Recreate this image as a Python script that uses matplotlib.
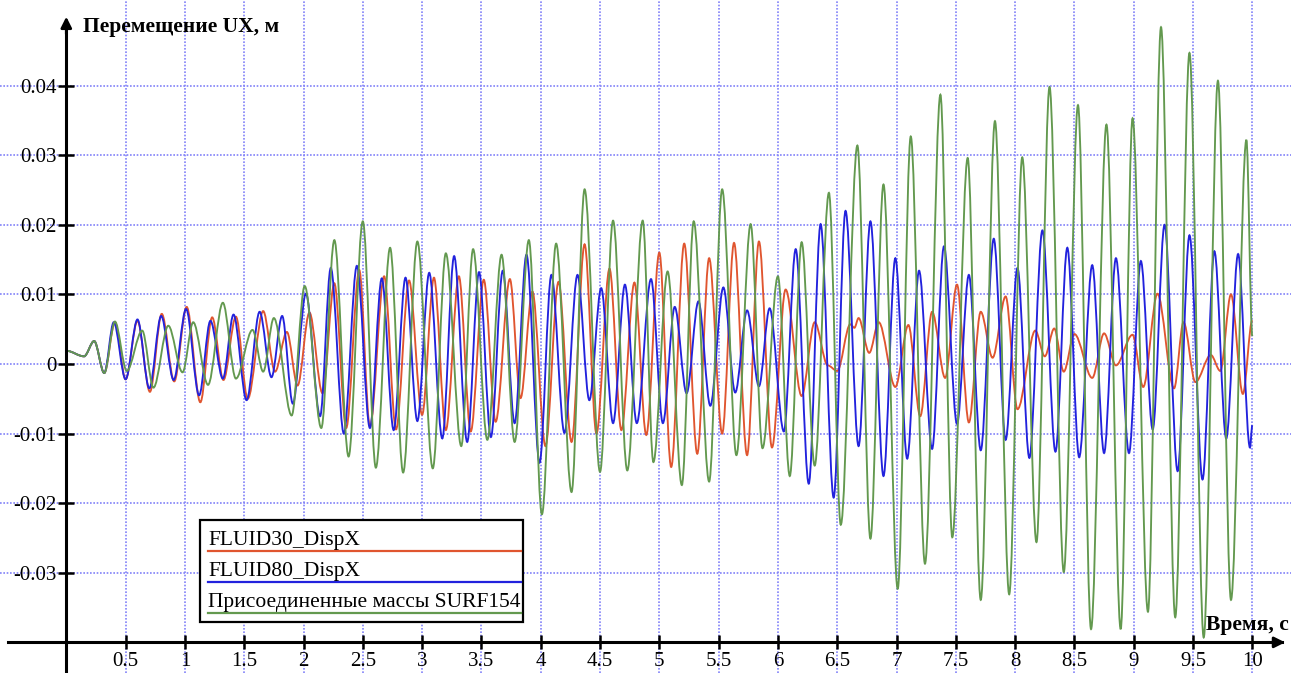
"""Перемещение UX во времени: три модели жидкости."""
import matplotlib
matplotlib.use("Agg")
import matplotlib.pyplot as plt
from matplotlib.path import Path
from matplotlib.patches import PathPatch, Rectangle
from matplotlib.lines import Line2D

plt.rcParams["font.family"] = ["Liberation Serif", "DejaVu Serif"]

# экстремумы кривых (время, с; перемещение, м)
fluid30_t = [0.0, 0.15, 0.235, 0.32, 0.41, 0.50, 0.60, 0.705, 0.805, 0.91, 1.015, 1.13, 1.23, 1.325,
             1.43, 1.53, 1.66, 1.76, 1.86, 1.95, 2.05, 2.16, 2.26, 2.36, 2.47, 2.56, 2.68, 2.78,
             2.89, 3.00, 3.10, 3.20, 3.31, 3.41, 3.52, 3.62, 3.74, 3.83, 3.93, 4.04, 4.15, 4.26,
             4.37, 4.47, 4.58, 4.68, 4.79, 4.89, 5.00, 5.10, 5.21, 5.32, 5.42, 5.53, 5.63, 5.74,
             5.84, 5.95, 6.065, 6.20, 6.31, 6.42, 6.50, 6.61, 6.645, 6.68, 6.77, 6.85, 6.99, 7.10,
             7.20, 7.30, 7.41, 7.51, 7.61, 7.71, 7.81, 7.92, 8.02, 8.17, 8.25, 8.33, 8.41, 8.50,
             8.65, 8.75, 8.85, 8.99, 9.08, 9.20, 9.34, 9.42, 9.52, 9.65, 9.73, 9.82, 9.92, 10.0]
fluid30_v = [0.0019, 0.0011, 0.0033, -0.0013, 0.0060, -0.0022, 0.0062, -0.0040, 0.0072, -0.0025,
             0.0082, -0.0055, 0.0067, -0.0023, 0.0068, -0.0050, 0.0076, -0.0011, 0.0046, -0.0031,
             0.0074, -0.0042, 0.0116, -0.0092, 0.0135, -0.0090, 0.0126, -0.0094, 0.0120, -0.0073,
             0.0124, -0.0095, 0.0126, -0.0097, 0.0121, -0.0083, 0.0122, -0.0049, 0.0104, -0.0118,
             0.0118, -0.0112, 0.0172, -0.0100, 0.0137, -0.0095, 0.0117, -0.0102, 0.0160, -0.0148,
             0.0173, -0.0129, 0.0152, -0.0100, 0.0174, -0.0131, 0.0176, -0.0120, 0.0107, -0.0046,
             0.0060, -0.0002, -0.0010, 0.0057, 0.0052, 0.0066, 0.0016, 0.0060, -0.0033, 0.0056,
             -0.0075, 0.0075, -0.0020, 0.0114, -0.0084, 0.0075, 0.0009, 0.0097, -0.0065, 0.0048,
             0.0011, 0.0051, -0.0011, 0.0043, -0.0020, 0.0044, -0.0002, 0.0042, -0.0033, 0.0101,
             -0.0035, 0.0060, -0.0026, 0.0013, -0.0010, 0.0100, -0.0043, 0.0063]

fluid80_t = [0.0, 0.15, 0.235, 0.32, 0.40, 0.50, 0.60, 0.70, 0.80, 0.905, 1.01, 1.12, 1.215, 1.32,
             1.41, 1.52, 1.63, 1.73, 1.82, 1.91, 2.02, 2.14, 2.23, 2.34, 2.45, 2.56, 2.66, 2.76,
             2.86, 2.96, 3.06, 3.17, 3.27, 3.38, 3.48, 3.58, 3.68, 3.78, 3.88, 3.99, 4.09, 4.20,
             4.31, 4.41, 4.51, 4.61, 4.71, 4.81, 4.93, 5.03, 5.13, 5.23, 5.33, 5.43, 5.54, 5.64,
             5.74, 5.84, 5.93, 6.05, 6.15, 6.26, 6.36, 6.47, 6.57, 6.68, 6.78, 6.89, 6.99, 7.09,
             7.19, 7.30, 7.40, 7.51, 7.61, 7.71, 7.82, 7.92, 8.02, 8.12, 8.23, 8.34, 8.44, 8.54,
             8.65, 8.75, 8.85, 8.96, 9.06, 9.16, 9.26, 9.37, 9.47, 9.58, 9.68, 9.78, 9.88, 9.98, 10.0]
fluid80_v = [0.0019, 0.0011, 0.0033, -0.0013, 0.0060, -0.0022, 0.0064, -0.0035, 0.0069, -0.0023,
             0.0079, -0.0045, 0.0062, -0.0021, 0.0071, -0.0052, 0.0075, -0.0019, 0.0069, -0.0057,
             0.0101, -0.0075, 0.0138, -0.0100, 0.0141, -0.0092, 0.0123, -0.0095, 0.0124, -0.0082,
             0.0131, -0.0107, 0.0155, -0.0112, 0.0132, -0.0105, 0.0134, -0.0085, 0.0157, -0.0142,
             0.0128, -0.0099, 0.0128, -0.0052, 0.0109, -0.0085, 0.0114, -0.0085, 0.0122, -0.0085,
             0.0082, -0.0042, 0.0090, -0.0060, 0.0110, -0.0041, 0.0077, -0.0032, 0.0080, -0.0097,
             0.0165, -0.0172, 0.0201, -0.0192, 0.0220, -0.0118, 0.0205, -0.0161, 0.0152, -0.0136,
             0.0134, -0.0122, 0.0169, -0.0086, 0.0128, -0.0124, 0.0180, -0.0109, 0.0138, -0.0135,
             0.0192, -0.0126, 0.0167, -0.0134, 0.0142, -0.0128, 0.0152, -0.0128, 0.0148, -0.0094,
             0.0200, -0.0154, 0.0185, -0.0166, 0.0162, -0.0107, 0.0158, -0.0120, -0.0088]

surf154_t = [0.0, 0.15, 0.235, 0.32, 0.41, 0.51, 0.64, 0.735, 0.86, 0.98, 1.07, 1.195, 1.32, 1.43,
             1.57, 1.66, 1.75, 1.90, 2.01, 2.15, 2.26, 2.38, 2.50, 2.61, 2.73, 2.84, 2.96, 3.09,
             3.20, 3.33, 3.43, 3.55, 3.67, 3.78, 3.90, 4.01, 4.13, 4.26, 4.37, 4.50, 4.61, 4.73,
             4.86, 4.95, 5.07, 5.19, 5.29, 5.42, 5.53, 5.65, 5.77, 5.87, 6.00, 6.10, 6.20, 6.31,
             6.43, 6.53, 6.67, 6.78, 6.89, 7.01, 7.12, 7.24, 7.37, 7.47, 7.60, 7.71, 7.83, 7.95,
             8.06, 8.18, 8.29, 8.41, 8.53, 8.64, 8.77, 8.89, 8.99, 9.12, 9.23, 9.35, 9.47, 9.59,
             9.71, 9.82, 9.95, 10.0]
surf154_v = [0.0019, 0.0011, 0.0033, -0.0013, 0.0061, -0.0010, 0.0048, -0.0034, 0.0055, -0.0012,
             0.0060, -0.0030, 0.0088, -0.0021, 0.0049, -0.0011, 0.0066, -0.0074, 0.0112, -0.0092,
             0.0178, -0.0133, 0.0205, -0.0149, 0.0167, -0.0156, 0.0176, -0.0150, 0.0159, -0.0118,
             0.0165, -0.0109, 0.0157, -0.0112, 0.0178, -0.0216, 0.0173, -0.0184, 0.0251, -0.0155,
             0.0206, -0.0153, 0.0206, -0.0141, 0.0133, -0.0174, 0.0205, -0.0169, 0.0251, -0.0131,
             0.0201, -0.0121, 0.0126, -0.0161, 0.0175, -0.0146, 0.0246, -0.0231, 0.0314, -0.0251,
             0.0258, -0.0323, 0.0327, -0.0287, 0.0387, -0.0249, 0.0296, -0.0339, 0.0349, -0.0331,
             0.0297, -0.0256, 0.0398, -0.0299, 0.0372, -0.0381, 0.0344, -0.0381, 0.0353, -0.0356,
             0.0484, -0.0364, 0.0447, -0.0393, 0.0407, -0.0339, 0.0322, 0.0040]

series_names = ["FLUID30_DispX", "FLUID80_DispX", "Присоединенные массы SURF154"]
series_colors = ["#E0552F", "#2222DD", "#63994F"]

x_ticks = [0.5 * i for i in range(1, 21)]
x_labels = ["0.5", "1", "1.5", "2", "2.5", "3", "3.5", "4", "4.5", "5",
            "5.5", "6", "6.5", "7", "7.5", "8", "8.5", "9", "9.5", "10"]
y_ticks = [-0.03, -0.02, -0.01, 0.0, 0.01, 0.02, 0.03, 0.04]
y_labels = ["-0.03", "-0.02", "-0.01", "0", "0.01", "0.02", "0.03", "0.04"]


def smooth_path(t, v):
    # кубические кривые Безье между экстремумами, касательные горизонтальны
    verts = [(t[0], v[0])]
    codes = [Path.MOVETO]
    for i in range(1, len(t)):
        dt = t[i] - t[i - 1]
        verts += [(t[i - 1] + dt / 3, v[i - 1]), (t[i] - dt / 3, v[i]), (t[i], v[i])]
        codes += [Path.CURVE4] * 3
    return Path(verts, codes)


fig = plt.figure(figsize=(12.91, 6.73), dpi=100)
ax = fig.add_axes([0, 0, 1, 1])
ax.set_xlim(-0.559, 10.326)
ax.set_ylim(-0.0444, 0.0523)

ax.grid(True, color="#8282F8", lw=1.2, ls=(0, (1, 1)), zorder=0)

# оси через ноль
for side in ("top", "right"):
    ax.spines[side].set_visible(False)
ax.spines["left"].set_position(("data", 0))
ax.spines["bottom"].set_position(("data", -0.04))
ax.spines["left"].set_bounds(-0.0444, 0.049)
ax.spines["bottom"].set_bounds(-0.49, 10.25)
for side in ("left", "bottom"):
    ax.spines[side].set_linewidth(2.2)
    ax.spines[side].set_zorder(5)
ax.annotate("", xy=(0, 0.0503), xytext=(0, 0.047),
            arrowprops=dict(arrowstyle="-|>", color="k", lw=2.0, mutation_scale=16), zorder=6)
ax.annotate("", xy=(10.30, -0.04), xytext=(10.1, -0.04),
            arrowprops=dict(arrowstyle="-|>", color="k", lw=2.0, mutation_scale=16), zorder=6)

ax.set_xticks(x_ticks)
ax.set_xticklabels(x_labels)
ax.set_yticks(y_ticks)
ax.set_yticklabels(y_labels)
ax.tick_params(axis="x", direction="inout", length=10, width=1.8, pad=2, labelsize=15)
ax.tick_params(axis="y", direction="inout", length=12, width=1.8, pad=1, labelsize=15)

for t, v, c in zip([fluid30_t, fluid80_t, surf154_t],
                   [fluid30_v, fluid80_v, surf154_v], series_colors):
    ax.add_patch(PathPatch(smooth_path(t, v), fill=False, edgecolor=c, lw=1.35, zorder=3))

# подписи осей
fig.text(83 / 1291, 1 - 27 / 673, "Перемещение UX, м", fontsize=15.5, fontweight="bold",
         ha="left", va="center")
fig.text(1206 / 1291, 1 - 625 / 673, "Время, с", fontsize=15.5, fontweight="bold",
         ha="left", va="center")

# легенда: текст над цветной линией
ax.add_patch(Rectangle((200 / 1291, 1 - 622 / 673), 323 / 1291, 102 / 673,
                       transform=fig.transFigure, facecolor="white", edgecolor="black",
                       lw=1.6, zorder=7))
for i, (name, c) in enumerate(zip(series_names, series_colors)):
    base_y = 545 + 31 * i
    fig.text(208 / 1291, 1 - base_y / 673, name, fontsize=15.5, ha="left", va="baseline",
             zorder=8)
    fig.add_artist(Line2D([208 / 1291, 521 / 1291], [1 - (base_y + 5.5) / 673] * 2,
                          transform=fig.transFigure, color=c, lw=1.6, zorder=8))

plt.savefig("out.png", dpi=100)
plt.close()
